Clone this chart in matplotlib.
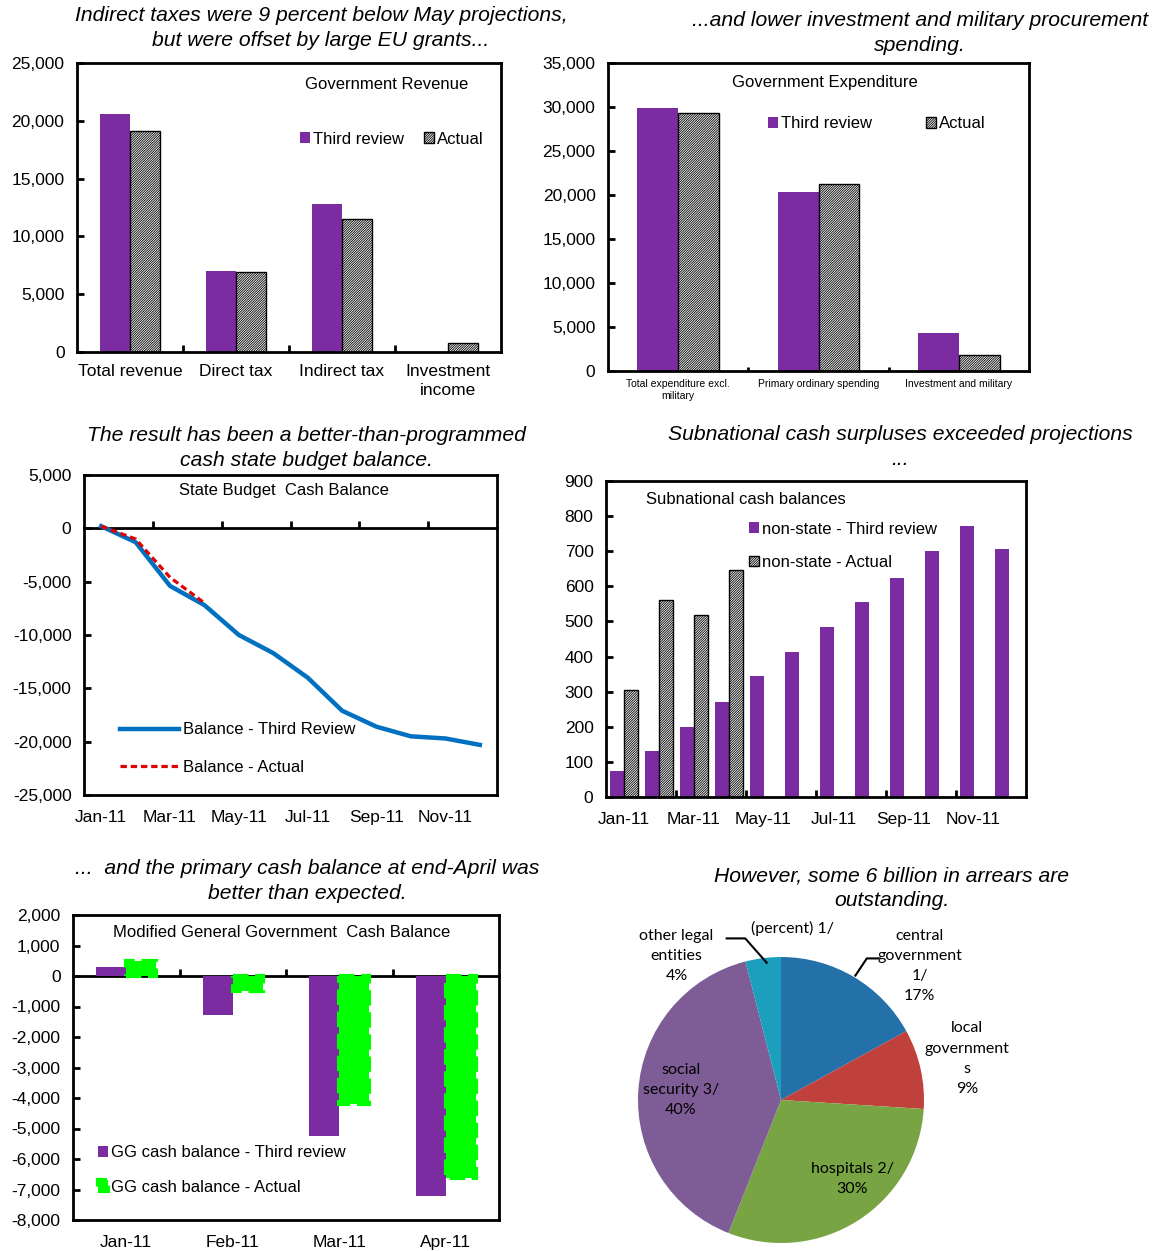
import numpy as np
import matplotlib
matplotlib.use('Agg')
import matplotlib.pyplot as plt
from matplotlib.ticker import FuncFormatter

plt.rcParams['font.family'] = ['Liberation Sans', 'DejaVu Sans']
plt.rcParams['hatch.linewidth'] = 0.6
plt.rcParams['axes.linewidth'] = 2

# ---- data ----
rev_cats = ['Total revenue', 'Direct tax', 'Indirect tax', 'Investment\nincome']
rev_third = [20600, 7000, 12800, 0]
rev_actual = [19100, 6900, 11500, 750]

exp_cats = ['Total expenditure excl.\nmilitary', 'Primary ordinary spending', 'Investment and military']
exp_third = [29900, 20300, 4300]
exp_actual = [29300, 21300, 1800]

months = ['Jan-11', 'Feb-11', 'Mar-11', 'Apr-11', 'May-11', 'Jun-11',
          'Jul-11', 'Aug-11', 'Sep-11', 'Oct-11', 'Nov-11', 'Dec-11']
sb_third = [200, -1300, -5400, -7200, -10000, -11700, -14000, -17100, -18600, -19500, -19700, -20300]
sb_actual = [200, -1000, -4600, -7000]

sub_third = [73, 130, 200, 271, 345, 412, 483, 555, 625, 700, 773, 706]
sub_actual = [305, 562, 518, 647]

gg_cats = ['Jan-11', 'Feb-11', 'Mar-11', 'Apr-11']
gg_third = [300, -1280, -5250, -7220]
gg_actual = [480, -480, -4200, -6620]

pie_names = ['central\ngovernment\n1/', 'local\ngovernment\ns', 'hospitals 2/',
             'social\nsecurity 3/', 'other legal\nentities']
pie_shares = [17, 9, 30, 40, 4]

PURPLE = '#7B2CA0'
FS = 12
TFS = 12.5
W, H = 1159, 1251

fig = plt.figure(figsize=(W / 100, H / 100), dpi=100)


def box(l, t, r, b):
    return fig.add_axes([l / W, 1 - b / H, (r - l) / W, (b - t) / H])


def title(x, y, s):
    fig.text(x / W, 1 - y / H, s, ha='center', va='center', style='italic',
             fontsize=15.2, linespacing=1.38)


comma = FuncFormatter(lambda v, p: f'{v:,.0f}')


def style_y(ax):
    ax.yaxis.set_major_formatter(comma)
    ax.tick_params(axis='y', direction='in', length=5, width=2, labelsize=TFS, pad=9)


def hatch_kw():
    return dict(color='white', edgecolor='black', hatch='/' * 14, linewidth=1)


# ---- panel 1: revenue ----
ax1 = box(77, 63, 501, 352)
x = np.arange(len(rev_cats))
bw = 0.285
ax1.bar(x - bw / 2, rev_third, bw, color=PURPLE, label='Third review')
ax1.bar(x + bw / 2, rev_actual, bw, label='Actual', **hatch_kw())
ax1.set_xlim(-0.5, len(rev_cats) - 0.5)
ax1.set_ylim(0, 25000)
ax1.set_yticks(np.arange(0, 25001, 5000))
style_y(ax1)
ax1.set_xticks(x, rev_cats, linespacing=1.3)
ax1.set_xticks(x[1:] - 0.5, minor=True)
ax1.tick_params(axis='x', which='major', length=0, labelsize=TFS, pad=9)
ax1.tick_params(axis='x', which='minor', direction='in', length=5, width=2)
ax1.text(0.731, 0.927, 'Government Revenue', transform=ax1.transAxes, ha='center', va='center', fontsize=FS)
ax1.legend(loc='center left', bbox_to_anchor=(0.525, 0.737), ncol=2, frameon=False, fontsize=FS,
           handlelength=0.6, handleheight=0.6, handletextpad=0.2, columnspacing=1.2, borderaxespad=0, borderpad=0)
title(321, 28, 'Indirect taxes were 9 percent below May projections,\nbut were offset by large EU grants...')

# ---- panel 2: expenditure ----
ax2 = box(608, 63, 1029, 371)
x = np.arange(len(exp_cats))
bw = 0.29
ax2.bar(x - bw / 2, exp_third, bw, color=PURPLE, label='Third review')
ax2.bar(x + bw / 2, exp_actual, bw, label='Actual', **hatch_kw())
ax2.set_xlim(-0.5, len(exp_cats) - 0.5)
ax2.set_ylim(0, 35000)
ax2.set_yticks(np.arange(0, 35001, 5000))
style_y(ax2)
ax2.set_xticks(x, exp_cats, family=['Liberation Sans Narrow', 'Liberation Sans'], fontsize=7.5)
ax2.set_xticks(x[1:] - 0.5, minor=True)
ax2.tick_params(axis='x', which='major', length=0, pad=6)
ax2.tick_params(axis='x', which='minor', direction='in', length=3, width=2)
ax2.text(0.515, 0.938, 'Government Expenditure', transform=ax2.transAxes, ha='center', va='center', fontsize=FS)
ax2.legend(loc='center left', bbox_to_anchor=(0.38, 0.802), ncol=2, frameon=False, fontsize=FS,
           handlelength=0.6, handleheight=0.6, handletextpad=0.2, columnspacing=3.2, borderaxespad=0, borderpad=0)
title(920, 33, '...and lower investment and military procurement\nspending.')

# ---- panel 3: state budget cash balance ----
ax3 = box(84, 475, 497, 795)
xm = np.arange(len(months))
ax3.plot(xm, sb_third, color='#0070C0', lw=3.2, label='Balance - Third Review', zorder=3)
ax3.plot(xm[:len(sb_actual)], sb_actual, color='#E00000', lw=2.3, ls=(0, (2, 1.2)),
         label='Balance - Actual', zorder=4)
ax3.set_xlim(-0.5, len(months) - 0.5)
ax3.set_ylim(-25000, 5000)
ax3.set_yticks(np.arange(-25000, 5001, 5000))
style_y(ax3)
ax3.set_xticks(xm[::2], months[::2])
ax3.tick_params(axis='x', length=0, labelsize=TFS, pad=11)
lo, hi = ax3.get_ylim()
sec3 = ax3.secondary_xaxis((0 - lo) / (hi - lo))
sec3.set_alignment('bottom')
sec3.set_xticks(xm[1:-1:2] + 0.5, [])
sec3.tick_params(direction='in', length=5, width=2)
sec3.spines['bottom'].set_linewidth(2)
ax3.text(0.484, 0.95, 'State Budget  Cash Balance', transform=ax3.transAxes, ha='center', va='center', fontsize=FS)
ax3.legend(loc='center left', bbox_to_anchor=(0.088, 0.145), frameon=False, fontsize=FS,
           handlelength=3.5, handletextpad=0.25, labelspacing=1.35, borderaxespad=0, borderpad=0)
title(306, 448, 'The result has been a better-than-programmed\ncash state budget balance.')

# ---- panel 4: subnational cash balances ----
ax4 = box(606, 481, 1026, 797)
bw = 0.4
ax4.bar(xm - bw / 2, sub_third, bw, color=PURPLE, label='non-state - Third review')
ax4.bar(xm[:len(sub_actual)] + bw / 2, sub_actual, bw, label='non-state - Actual', **hatch_kw())
ax4.set_xlim(-0.5, len(months) - 0.5)
ax4.set_ylim(0, 900)
ax4.set_yticks(np.arange(0, 901, 100))
ax4.tick_params(axis='y', direction='in', length=5, width=2, labelsize=TFS, pad=9)
ax4.set_xticks(xm[::2], months[::2])
ax4.set_xticks(xm[1:-1:2] + 0.5, minor=True)
ax4.tick_params(axis='x', which='major', length=0, labelsize=TFS, pad=11)
ax4.tick_params(axis='x', which='minor', direction='in', length=5, width=2)
ax4.text(0.095, 0.943, 'Subnational cash balances', transform=ax4.transAxes, ha='left', va='center', fontsize=FS)
ax4.legend(loc='center left', bbox_to_anchor=(0.34, 0.795), frameon=False, fontsize=FS,
           handlelength=0.6, handleheight=0.6, handletextpad=0.2, labelspacing=1.1, borderaxespad=0, borderpad=0)
title(900, 447, 'Subnational cash surpluses exceeded projections\n...')

# ---- panel 5: general government cash balance ----
ax5 = box(73, 915, 499, 1220)
x = np.arange(len(gg_cats))
bw = 0.28
ax5.bar(x - bw / 2, gg_third, bw, color=PURPLE, label='GG cash balance - Third review')
ax5.bar(x + bw / 2, gg_actual, bw, color='#00FF00', edgecolor='#00FF00', linewidth=3, linestyle='--',
        label='GG cash balance - Actual')
ax5.set_xlim(-0.5, len(gg_cats) - 0.5)
ax5.set_ylim(-8000, 2000)
ax5.set_yticks(np.arange(-8000, 2001, 1000))
style_y(ax5)
ax5.set_xticks(x, gg_cats)
ax5.tick_params(axis='x', length=0, labelsize=TFS, pad=11)
lo, hi = ax5.get_ylim()
sec5 = ax5.secondary_xaxis((0 - lo) / (hi - lo))
sec5.set_alignment('bottom')
sec5.set_xticks(x[1:] - 0.5, [])
sec5.tick_params(direction='in', length=5, width=2)
sec5.spines['bottom'].set_linewidth(2)
ax5.text(0.49, 0.941, 'Modified General Government  Cash Balance', transform=ax5.transAxes,
         ha='center', va='center', fontsize=FS)
ax5.legend(loc='center left', bbox_to_anchor=(0.058, 0.164), frameon=False, fontsize=FS,
           handlelength=0.6, handleheight=0.6, handletextpad=0.2, labelspacing=1.15, borderaxespad=0, borderpad=0)
title(307, 881, '...  and the primary cash balance at end-April was\nbetter than expected.')

# ---- panel 6: arrears pie ----
ax6 = box(638, 957, 924, 1243)
pie_colors = ['#2471AA', '#C0413B', '#78A443', '#7E5C95', '#1C9FBD']
ax6.pie(pie_shares, colors=pie_colors, startangle=90, counterclock=False, radius=1,
        wedgeprops=dict(linewidth=0))
ax6.set_xlim(-1, 1)
ax6.set_ylim(-1, 1)
ax6.set_aspect('equal')
ax6.axis('off')
pie_font = dict(family=['Lato', 'DejaVu Sans'], fontsize=11.5, ha='center', va='center', linespacing=1.55)
label_pos = [(0.97, 0.94), (1.30, 0.29), (0.50, -0.55), (-0.70, 0.07), (-0.73, 1.01)]
for name, share, (lx, ly) in zip(pie_names, pie_shares, label_pos):
    ax6.text(lx, ly, f'{name}\n{share}%', clip_on=False, **pie_font)
ax6.text(0.08, 1.20, '(percent) 1/', clip_on=False, **pie_font)
ax6.plot([-0.38, -0.25, -0.10], [1.13, 1.13, 0.96], color='black', lw=1.5, clip_on=False)
ax6.plot([0.52, 0.60, 0.68], [0.87, 0.99, 0.99], color='black', lw=1.5, clip_on=False)
title(892, 888, 'However, some 6 billion in arrears are\noutstanding.')

fig.savefig('out.png', dpi=100)
